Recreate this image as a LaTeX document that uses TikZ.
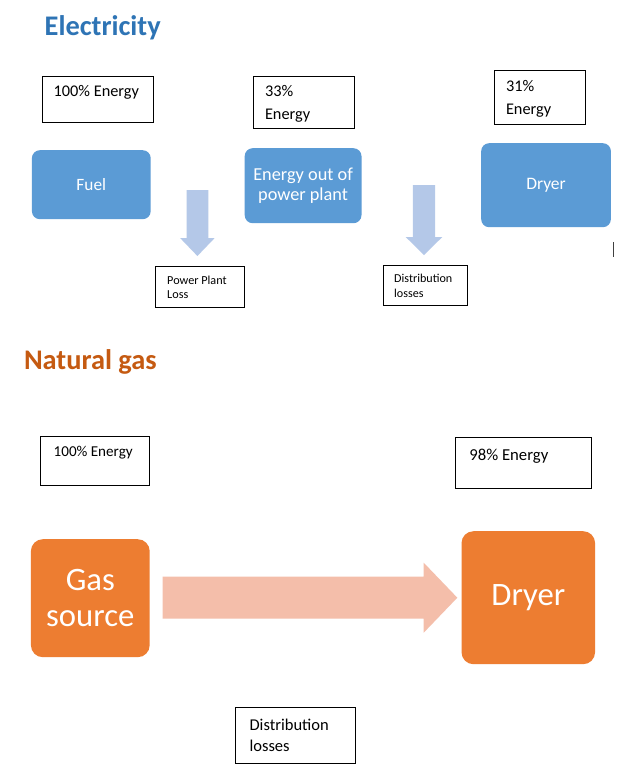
\documentclass[tikz,border=0pt]{standalone}
\usepackage{fontspec}
\setmainfont{Carlito}
\usetikzlibrary{calc}
\definecolor{ttlblue}{HTML}{2E74B5}
\definecolor{boxblue}{HTML}{5B9BD5}
\definecolor{arrblue}{HTML}{B4C8E8}
\definecolor{ttlorange}{HTML}{C55A11}
\definecolor{boxorange}{HTML}{ED7D31}
\definecolor{arrsalmon}{HTML}{F4BEAA}
\newcommand{\fz}[2]{\fontsize{#1}{#2}\selectfont}
\newcommand{\tl}[2]{\parbox[t]{#1}{\raggedright #2}}
\begin{document}
\begin{tikzpicture}[x=1pt,y=-1pt,
  tbox/.style={draw=black, line width=1pt, inner sep=0pt, anchor=north west},
  tx/.style={anchor=base west, inner sep=0pt},
  bluebox/.style={fill=boxblue, rounded corners=8pt, text=white, align=center, anchor=north west, inner sep=0pt},
  orangebox/.style={fill=boxorange, rounded corners=12pt, text=white, align=center, anchor=north west, inner sep=0pt},
  title/.style={anchor=base west, inner sep=0pt, font=\bfseries\fz{28.4}{32}}]
\useasboundingbox (0,0) rectangle (640,780);
\fill[white] (0,0) rectangle (640,780);

% ---------- Electricity ----------
\node[title, text=ttlblue] (telec) at (44.5,35) {Electricity};

\node[tbox, minimum width=111, minimum height=46] (e100) at (42.4,76) {};
\node[tx, font=\fz{16.3}{22.5}] (e100t) at (53.5,96.7) {\tl{100pt}{100\% Energy}};

\node[tbox, minimum width=101, minimum height=52] (e33) at (253.4,76) {};
\node[tx, font=\fz{16.3}{22.5}] (e33t) at (264.8,96.7) {\tl{80pt}{33\%\\Energy}};

\node[tbox, minimum width=91, minimum height=54] (e31) at (494,70) {};
\node[tx, font=\fz{16.3}{22.5}] (e31t) at (505.8,91.7) {\tl{75pt}{31\%\\Energy}};

\node[bluebox, minimum width=118.8, minimum height=69, font=\fz{17.3}{20}] (fuel) at (31.7,150) {Fuel};
\node[bluebox, minimum width=116.8, minimum height=75, font=\fz{18.3}{20.3}] (eout) at (244.5,148) {Energy out of\\power plant};
\node[bluebox, minimum width=129.7, minimum height=84, font=\fz{17.5}{20}] (drye) at (481,143) {Dryer};

\node[tbox, minimum width=89, minimum height=41] (epl) at (155.4,266) {};
\node[tx, font=\fz{12.2}{14.3}] (eplt) at (167,284) {\tl{75pt}{Power Plant\\Loss}};

\node[tbox, minimum width=84, minimum height=40] (edl) at (383,265) {};
\node[tx, font=\fz{12.1}{15}] (edlt) at (394,282.7) {\tl{75pt}{Distribution\\losses}};

\coordinate (tip1) at ($(epl.north)+(-3,-10)$);
\coordinate (tip2) at ($(edl.north)+(-1.5,-10)$);
\fill[arrblue] (tip1) -- +(-17.3,-18) -- +(-10.9,-18) -- +(-10.9,-66) -- +(10.9,-66) -- +(10.9,-18) -- +(17.3,-18) -- cycle;
\fill[arrblue] (tip2) -- +(-18.3,-18) -- +(-11.1,-18) -- +(-11.1,-70) -- +(11.1,-70) -- +(11.1,-18) -- +(18.3,-18) -- cycle;

\coordinate (cur1) at (613.5,242);
\coordinate (cur2) at (613.5,257);
\draw[line width=1.2pt, black!75] (cur1) -- (cur2);

% ---------- Natural gas ----------
\node[title, text=ttlorange] (tgas) at (23.8,369) {Natural gas};

\node[tbox, minimum width=108.9, minimum height=49] (g100) at (39.6,436) {};
\node[tx, font=\fz{15.1}{20}] (g100t) at (53.5,456) {\tl{100pt}{100\% Energy}};

\node[tbox, minimum width=135.6, minimum height=51] (g98) at (455.3,437) {};
\node[tx, font=\fz{16.7}{21}] (g98t) at (469.2,460) {\tl{110pt}{98\% Energy}};

\node[orangebox, minimum width=118.8, minimum height=118, font=\fz{32.7}{36}] (gas) at (30.7,539) {Gas\\source};
\node[orangebox, minimum width=133.6, minimum height=133, font=\fz{32.7}{36}] (dryg) at (461.3,531) {Dryer};

\coordinate (ga2) at ($(dryg.west)+(-4,0)$);
\coordinate (ga1) at ($(gas.east)+(12.8,0)$);
\coordinate (ga0) at (ga1 |- ga2);
\fill[arrsalmon] (ga0) +(0,-21) -- ($(ga2)+(-33.6,-21)$) -- ($(ga2)+(-33.6,-35)$) -- (ga2) -- ($(ga2)+(-33.6,35)$) -- ($(ga2)+(-33.6,21)$) -- ($(ga0)+(0,21)$) -- cycle;

\node[tbox, minimum width=120.8, minimum height=56] (gdl) at (234.6,707) {};
\node[tx, font=\fz{16.5}{21}] (gdlt) at (249.4,730.7) {\tl{100pt}{Distribution\\losses}};
\end{tikzpicture}
\end{document}
